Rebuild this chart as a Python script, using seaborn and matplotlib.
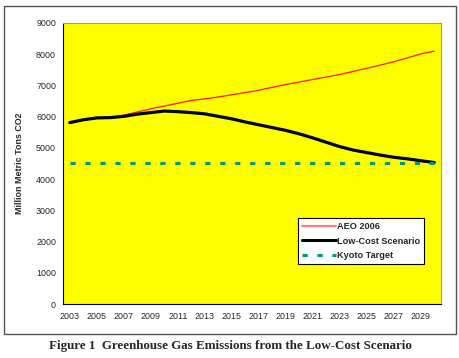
import matplotlib
matplotlib.use("Agg")
import matplotlib.pyplot as plt
import seaborn as sns
import pandas as pd
from matplotlib.patches import Rectangle
from matplotlib.lines import Line2D

years = list(range(2003, 2031))
aeo_2006 = [5810, 5900, 5960, 5970, 6050, 6150, 6250, 6340, 6430, 6520, 6570, 6630, 6700, 6770,
            6850, 6940, 7030, 7110, 7190, 7270, 7350, 7450, 7550, 7650, 7760, 7880, 8010, 8100]
low_cost = [5810, 5900, 5960, 5970, 6010, 6080, 6130, 6180, 6160, 6130, 6090, 6010, 5930, 5830,
            5740, 5650, 5560, 5450, 5320, 5180, 5040, 4930, 4850, 4770, 4700, 4650, 4590, 4530]
kyoto = [4530] * len(years)
series_names = ["AEO 2006", "Low-Cost Scenario", "Kyoto Target"]
y_ticks = list(range(0, 9001, 1000))
x_labels = [str(y) for y in range(2003, 2030, 2)]

sns.set_style("white")
plt.rcParams['font.family'] = ['Liberation Sans', 'DejaVu Sans']

df = pd.DataFrame({"year": years * 3,
                   "value": aeo_2006 + low_cost + kyoto,
                   "series": [series_names[0]] * len(years) + [series_names[1]] * len(years)
                             + [series_names[2]] * len(years)})

fig = plt.figure(figsize=(4.6, 3.58), dpi=100)
fig.patch.set_facecolor("white")
ax = fig.add_axes([0.137, 0.1508, 0.8217, 0.785])
ax.set_facecolor("#FFFF00")

sns.lineplot(data=df, x="year", y="value", hue="series", style="series",
             palette={"AEO 2006": "#FF1A00", "Low-Cost Scenario": "#000000", "Kyoto Target": "#009980"},
             dashes={"AEO 2006": "", "Low-Cost Scenario": "", "Kyoto Target": (1.7, 3.2)},
             size="series", sizes={"AEO 2006": 0.9, "Low-Cost Scenario": 2.3, "Kyoto Target": 2.2},
             ax=ax, legend=False)

ax.set_xlim(2002.5, 2030.5)
ax.set_ylim(0, 9000)
ax.set_yticks(y_ticks)
ax.set_yticklabels([str(v) for v in y_ticks], fontsize=6.4)
ax.set_xticks(list(range(2003, 2030, 2)))
ax.set_xticklabels(x_labels, fontsize=6.4)
ax.set_xticks([y + 0.5 for y in range(2002, 2031)], minor=True)
ax.tick_params(axis="x", which="major", length=0, pad=6)
ax.tick_params(axis="x", which="minor", length=3, width=0.8, color="black", direction="out")
ax.tick_params(axis="y", which="major", length=3, width=0.8, color="black", direction="out", pad=2)
ax.set_xlabel("")
ax.set_ylabel("Million Metric Tons CO2", fontsize=6.4, fontweight="bold", labelpad=9)

for s in ["top", "right"]:
    ax.spines[s].set_color("#999999")
    ax.spines[s].set_linewidth(0.8)
for s in ["left", "bottom"]:
    ax.spines[s].set_color("black")
    ax.spines[s].set_linewidth(0.8)

handles = [Line2D([], [], color="#FF7F7F", lw=1.6),
           Line2D([], [], color="black", lw=2.2),
           Line2D([], [], color="#009980", lw=2.2, dashes=(1.7, 3.2))]
leg = ax.legend(handles, series_names, loc="upper left", bbox_to_anchor=(0.622, 0.306),
                prop={"weight": "bold", "size": 6.6}, frameon=True, fancybox=False,
                edgecolor="black", framealpha=1, handlelength=3.7, handletextpad=0.1,
                borderpad=0.45, labelspacing=0.6, borderaxespad=0)
leg.get_frame().set_linewidth(0.8)

fig.patches.append(Rectangle((4 / 460, 1 - 334 / 358), 452 / 460, 328 / 358,
                             transform=fig.transFigure, fill=False, edgecolor="#555555",
                             linewidth=1.0))
fig.text(0.5, 1 - 346 / 358, "Figure 1  Greenhouse Gas Emissions from the Low-Cost Scenario",
         ha="center", va="center", fontsize=9.4, fontweight="bold",
         family=["Liberation Serif", "DejaVu Serif"])

fig.savefig("out.png", dpi=100)
